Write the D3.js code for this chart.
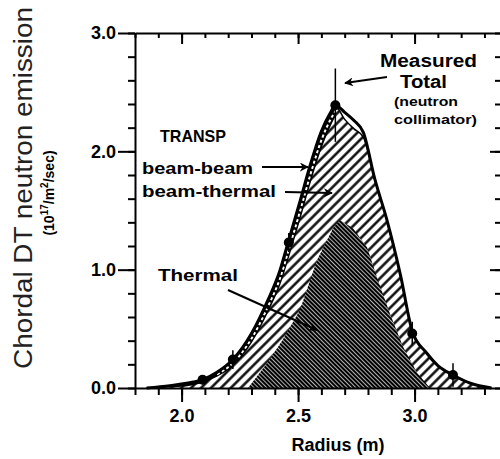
<!DOCTYPE html>
<html>
<head>
<meta charset="utf-8">
<script src="https://cdn.jsdelivr.net/npm/d3@7"></script>
<style>
  body { margin: 0; background: #fff; }
  svg { display: block; }
  text { font-family: "Liberation Sans", Arial, sans-serif; }
</style>
</head>
<body>
<script>
const width = 500;
const height = 459;

// data
const radius = [1.85, 1.95, 2.05, 2.09, 2.15, 2.22, 2.30, 2.37, 2.42, 2.46, 2.51, 2.55, 2.60, 2.64, 2.66, 2.70, 2.74, 2.78, 2.83, 2.88, 2.94, 2.99, 3.05, 3.10, 3.165, 3.24, 3.33];
const measuredTotal = [0.0, 0.02, 0.05, 0.07, 0.13, 0.24, 0.46, 0.74, 0.98, 1.25, 1.59, 1.87, 2.17, 2.33, 2.39, 2.33, 2.26, 2.16, 1.76, 1.43, 0.95, 0.48, 0.30, 0.19, 0.11, 0.04, 0.0];
const transpTotal = [0.0, 0.02, 0.05, 0.07, 0.13, 0.24, 0.46, 0.74, 0.98, 1.25, 1.59, 1.87, 2.17, 2.33, 2.38, 2.27, 2.19, 2.12, 1.76, 1.43, 0.95, 0.48, 0.30, 0.19, 0.11, 0.04, 0.0];
const transpBeamThermal = [0.0, 0.01, 0.03, 0.05, 0.10, 0.19, 0.39, 0.65, 0.87, 1.12, 1.45, 1.73, 2.04, 2.23, 2.31, 2.27, 2.19, 2.12, 1.76, 1.43, 0.95, 0.48, 0.30, 0.19, 0.11, 0.04, 0.0];

const thermalR = [2.285, 2.367, 2.435, 2.508, 2.581, 2.65, 2.68, 2.736, 2.796, 2.843, 2.894, 2.95, 3.01, 3.066];
const thermalV = [0.0, 0.21, 0.41, 0.66, 1.08, 1.35, 1.42, 1.35, 1.19, 0.91, 0.63, 0.35, 0.13, 0.0];

const pointR = [2.09, 2.22, 2.46, 2.66, 2.99, 3.165];
const pointV = [0.07, 0.24, 1.23, 2.39, 0.46, 0.11];
const pointErr = [0.04, 0.08, 0.08, 0.31, 0.1, 0.1];

const xMinorTicks = [1.8, 1.9, 2.0, 2.1, 2.2, 2.3, 2.4, 2.5, 2.6, 2.7, 2.8, 2.9, 3.0, 3.1, 3.2, 3.3];
const xMajorTicks = [2.0, 2.5, 3.0];
const yMinorTicks = [0, 0.2, 0.4, 0.6, 0.8, 1.0, 1.2, 1.4, 1.6, 1.8, 2.0, 2.2, 2.4, 2.6, 2.8, 3.0];
const yMajorTicks = [0, 1, 2, 3];

const x = d3.scaleLinear().domain([1.8, 3.371]).range([135, 501]);
const y = d3.scaleLinear().domain([0, 3]).range([388, 33]);

const svg = d3.select("body")
  .append("svg")
  .attr("width", width)
  .attr("height", height);

// patterns
const defs = svg.append("defs");
const hatch = defs.append("pattern")
  .attr("id", "hatch")
  .attr("patternUnits", "userSpaceOnUse")
  .attr("width", 7).attr("height", 7)
  .attr("patternTransform", "rotate(45)");
hatch.append("rect").attr("width", 7).attr("height", 7).attr("fill", "#fff");
hatch.append("line").attr("x1", 3.5).attr("x2", 3.5).attr("y1", 0).attr("y2", 7)
  .attr("stroke", "#000").attr("stroke-width", 2.4);

const dense = defs.append("pattern")
  .attr("id", "dense")
  .attr("patternUnits", "userSpaceOnUse")
  .attr("width", 3).attr("height", 3)
  .attr("patternTransform", "rotate(-45)");
dense.append("rect").attr("width", 3).attr("height", 3).attr("fill", "#000");
dense.append("line").attr("x1", 1.5).attr("x2", 1.5).attr("y1", 0).attr("y2", 3)
  .attr("stroke", "#fff").attr("stroke-width", 0.7);

const marker = defs.append("marker")
  .attr("id", "arrow")
  .attr("viewBox", "0 0 10 10")
  .attr("refX", 9).attr("refY", 5)
  .attr("markerWidth", 9).attr("markerHeight", 9)
  .attr("markerUnits", "userSpaceOnUse")
  .attr("orient", "auto");
marker.append("path").attr("d", "M0,0 L10,5 L0,10 L3,5 Z").attr("fill", "#000");

const rows = radius.map((r, i) => ({
  r, meas: measuredTotal[i], tot: transpTotal[i], bt: transpBeamThermal[i]
}));
const thermal = thermalR.map((r, i) => ({ r, v: thermalV[i] }));

// TRANSP total -> hatched
svg.append("path")
  .datum(rows)
  .attr("d", d3.area().x(d => x(d.r)).y0(y(0)).y1(d => y(d.tot)).curve(d3.curveMonotoneX))
  .attr("fill", "url(#hatch)");

// thermal -> dense crosshatch
svg.append("path")
  .datum(thermal)
  .attr("d", d3.area().x(d => x(d.r)).y0(y(0)).y1(d => y(d.v)))
  .attr("fill", "url(#dense)");

// beam-beam band (black with white dashes)
const band = rows.filter(d => d.tot - d.bt > 0.001 || d.r < 2.7);
svg.append("path")
  .datum(band)
  .attr("d", d3.area().x(d => x(d.r)).y0(d => y(d.bt)).y1(d => y(d.tot)).curve(d3.curveMonotoneX))
  .attr("fill", "#000");
svg.append("path")
  .datum(band)
  .attr("d", d3.line().x(d => x(d.r)).y(d => y(d.bt)).curve(d3.curveMonotoneX))
  .attr("fill", "none").attr("stroke", "#000").attr("stroke-width", 1.5);
svg.append("path")
  .datum(band.filter(d => d.r > 2.1))
  .attr("d", d3.line().x(d => x(d.r) + 0.5).y(d => y((d.tot + d.bt) / 2)).curve(d3.curveMonotoneX))
  .attr("fill", "none").attr("stroke", "#fff").attr("stroke-width", 2)
  .attr("stroke-dasharray", "3,2.5");

// TRANSP total edge
svg.append("path")
  .datum(rows)
  .attr("d", d3.line().x(d => x(d.r)).y(d => y(d.tot)).curve(d3.curveMonotoneX))
  .attr("fill", "none").attr("stroke", "#000").attr("stroke-width", 1.5);

// measured total line
svg.append("path")
  .datum(rows)
  .attr("d", d3.line().x(d => x(d.r)).y(d => y(d.meas)).curve(d3.curveMonotoneX))
  .attr("fill", "none").attr("stroke", "#000").attr("stroke-width", 3);

// error bars and points
const pts = pointR.map((r, i) => ({ r, v: pointV[i], e: pointErr[i] }));
svg.selectAll(".err")
  .data(pts)
  .enter()
  .append("line")
  .attr("class", "err")
  .attr("x1", d => x(d.r)).attr("x2", d => x(d.r))
  .attr("y1", d => y(d.v - d.e)).attr("y2", d => y(d.v + d.e))
  .attr("stroke", "#000").attr("stroke-width", 1.5);
svg.selectAll(".pt")
  .data(pts)
  .enter()
  .append("circle")
  .attr("class", "pt")
  .attr("cx", d => x(d.r)).attr("cy", d => y(d.v))
  .attr("r", 5)
  .attr("fill", "#000");

// axes
function styleAxis(g) {
  g.selectAll("line").attr("stroke", "#000").attr("stroke-width", 2);
  g.selectAll("path").attr("stroke", "#000").attr("stroke-width", 2);
  g.selectAll("text")
    .attr("font-family", "'Liberation Sans', Arial, sans-serif")
    .attr("font-weight", "bold")
    .attr("font-size", 18)
    .attr("fill", "#000");
}

svg.append("g")
  .attr("transform", `translate(0,${y(0)})`)
  .call(d3.axisBottom(x).tickValues(xMinorTicks).tickSize(7).tickSizeOuter(0).tickFormat(""))
  .call(styleAxis);
svg.append("g")
  .attr("transform", `translate(0,${y(0)})`)
  .call(d3.axisBottom(x).tickValues(xMajorTicks).tickSize(14).tickPadding(7).tickFormat(d3.format(".1f")))
  .call(g => g.select(".domain").remove())
  .call(styleAxis);

svg.append("g")
  .attr("transform", `translate(0,${y(3)})`)
  .call(d3.axisTop(x).tickValues(xMinorTicks).tickSize(-5).tickSizeOuter(0).tickFormat(""))
  .call(styleAxis);
svg.append("g")
  .attr("transform", `translate(0,${y(3)})`)
  .call(d3.axisTop(x).tickValues(xMajorTicks).tickSize(-11).tickFormat(""))
  .call(g => g.select(".domain").remove())
  .call(styleAxis);

svg.append("g")
  .attr("transform", `translate(${x(1.8)},0)`)
  .call(d3.axisLeft(y).tickValues(yMinorTicks).tickSize(7).tickSizeOuter(0).tickFormat(""))
  .call(styleAxis);
svg.append("g")
  .attr("transform", `translate(${x(1.8)},0)`)
  .call(d3.axisLeft(y).tickValues(yMajorTicks).tickSize(17).tickPadding(2).tickFormat(d3.format(".1f")))
  .call(g => g.select(".domain").remove())
  .call(styleAxis);

svg.append("g")
  .attr("transform", `translate(${x(3.371)},0)`)
  .call(d3.axisRight(y).tickValues(yMinorTicks).tickSize(-6).tickSizeOuter(0).tickFormat(""))
  .call(styleAxis);
svg.append("g")
  .attr("transform", `translate(${x(3.371)},0)`)
  .call(d3.axisRight(y).tickValues([1, 2]).tickSize(-11).tickFormat(""))
  .call(g => g.select(".domain").remove())
  .call(styleAxis);

// axis titles
svg.append("text")
  .attr("x", 338).attr("y", 451)
  .attr("text-anchor", "middle")
  .attr("font-weight", "bold").attr("font-size", 18)
  .text("Radius (m)");

svg.append("text")
  .attr("transform", "translate(32,188) rotate(-90)")
  .attr("text-anchor", "middle")
  .attr("font-size", 25)
  .attr("fill", "#222")
  .attr("textLength", 362).attr("lengthAdjust", "spacingAndGlyphs")
  .text("Chordal DT neutron emission");

const unit = svg.append("text")
  .attr("transform", "translate(54,193) rotate(-90)")
  .attr("text-anchor", "middle")
  .attr("font-weight", "bold")
  .attr("font-size", 14);
unit.append("tspan").text("(10");
unit.append("tspan").attr("font-size", 10).attr("dy", -6).text("17");
unit.append("tspan").attr("dy", 6).text("/m");
unit.append("tspan").attr("font-size", 10).attr("dy", -6).text("2");
unit.append("tspan").attr("dy", 6).text("/sec)");

// annotations
const labels = [
  { t: "TRANSP", x: 160, y: 142, s: 17, w: 66 },
  { t: "beam-beam", x: 142, y: 174, s: 17, w: 111 },
  { t: "beam-thermal", x: 142, y: 197, s: 17, w: 134 },
  { t: "Thermal", x: 158, y: 281, s: 17, w: 80 },
  { t: "Measured", x: 380, y: 67, s: 18, w: 97 },
  { t: "Total", x: 400, y: 88, s: 18, w: 47 },
  { t: "(neutron", x: 394, y: 106, s: 13, w: 64 },
  { t: "collimator)", x: 394, y: 124, s: 13, w: 83 }
];
svg.selectAll(".note")
  .data(labels)
  .enter()
  .append("text")
  .attr("class", "note")
  .attr("x", d => d.x).attr("y", d => d.y)
  .attr("font-weight", "bold")
  .attr("font-size", d => d.s)
  .attr("textLength", d => d.w).attr("lengthAdjust", "spacingAndGlyphs")
  .text(d => d.t);

const arrows = [
  [387, 77, 345, 83],
  [262, 167, 308, 167],
  [285, 192, 332, 193],
  [228, 290, 317, 330]
];
svg.selectAll(".arr")
  .data(arrows)
  .enter()
  .append("line")
  .attr("class", "arr")
  .attr("x1", d => d[0]).attr("y1", d => d[1])
  .attr("x2", d => d[2]).attr("y2", d => d[3])
  .attr("stroke", "#000").attr("stroke-width", 2)
  .attr("marker-end", "url(#arrow)");
</script>
</body>
</html>
